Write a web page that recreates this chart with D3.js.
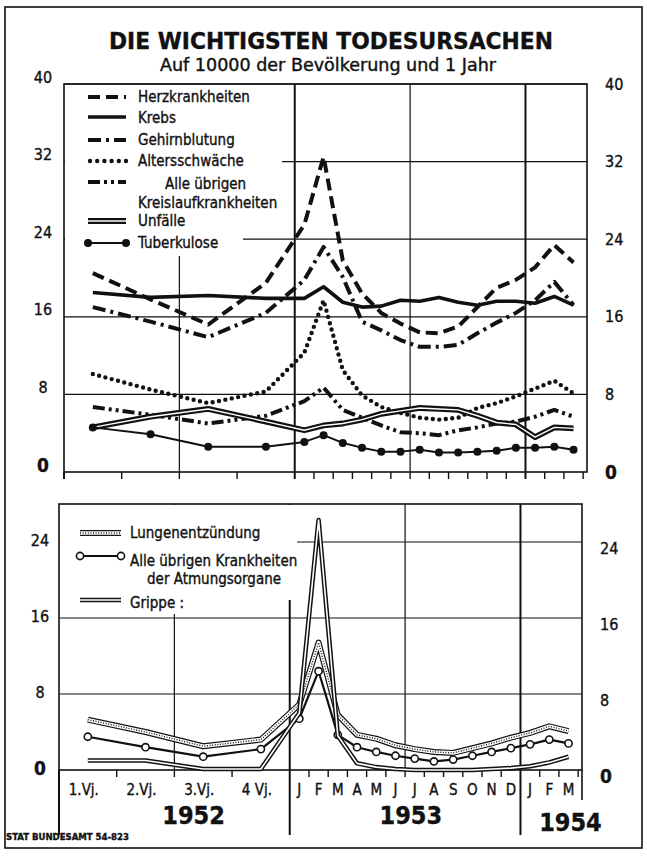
<!DOCTYPE html>
<html>
<head>
<meta charset="utf-8">
<script src="https://cdn.jsdelivr.net/npm/d3@7"></script>
<style>
body { margin: 0; background: #fff; }
text { font-family: "DejaVu Sans Condensed", "Liberation Sans Narrow", "DejaVu Sans", sans-serif; fill: #111; stroke: #111; stroke-width: 0.35; }
</style>
</head>
<body>
<div id="chart"></div>
<script>
// periods: 1952 in quarters, 1953 and early 1954 in months
const periods = ["1.Vj.", "2.Vj.", "3.Vj.", "4 Vj.", "J", "F", "M", "A", "M", "J", "J", "A", "S", "O", "N", "D", "J", "F", "M"];
const periodMonth = [1.5, 4.5, 7.5, 10.5, 12.5, 13.5, 14.5, 15.5, 16.5, 17.5, 18.5, 19.5, 20.5, 21.5, 22.5, 23.5, 24.5, 25.5, 26.5];
const years = ["1952", "1953", "1954"];
const yearMonth = [7, 18.3, 26.6];
const topTicks = [0, 8, 16, 24, 32, 40];
const bottomTicks = [0, 8, 16, 24];

// upper chart (per 10000 inhabitants and year)
const herz      = [20.5, 17.8, 15.2, 19.5, 25.5, 32.5, 21.8, 18.4, 16.4, 15.3, 14.4, 14.3, 15.0, 17.0, 19.0, 19.8, 21.1, 23.4, 21.6];
const krebs     = [18.5, 18.0, 18.2, 17.9, 17.9, 19.1, 17.5, 17.0, 17.1, 17.7, 17.6, 18.0, 17.5, 17.2, 17.6, 17.6, 17.4, 18.1, 17.2];
const gehirn    = [17.0, 15.5, 13.9, 16.4, 19.8, 23.2, 20.1, 15.5, 14.6, 13.6, 12.9, 12.9, 13.1, 14.3, 15.4, 16.4, 17.7, 19.6, 17.2];
const alters    = [10.1, 8.5, 7.1, 8.3, 12.3, 17.7, 10.5, 7.9, 6.7, 6.1, 5.6, 5.4, 5.6, 6.6, 7.1, 7.8, 8.6, 9.4, 8.1];
const kreislauf = [6.7, 5.9, 5.0, 5.8, 7.3, 8.7, 6.4, 5.6, 4.8, 4.1, 4.0, 3.8, 4.3, 4.6, 5.0, 5.2, 5.7, 6.4, 5.7];
const unfaelle  = [4.6, 5.7, 6.5, 5.2, 4.3, 4.8, 5.0, 5.4, 6.0, 6.3, 6.6, 6.5, 6.4, 5.8, 5.1, 4.9, 3.6, 4.6, 4.5];
const tuberk    = [4.6, 3.9, 2.6, 2.6, 3.1, 3.8, 3.0, 2.5, 2.1, 2.1, 2.3, 2.0, 2.0, 2.1, 2.2, 2.5, 2.5, 2.6, 2.3];

// lower chart
const lungen = [5.3, 4.0, 2.5, 3.2, 6.9, 13.4, 5.8, 3.7, 3.3, 2.6, 2.2, 1.9, 1.8, 2.3, 2.8, 3.4, 3.9, 4.6, 4.1];
const atmung = [3.5, 2.4, 1.4, 2.2, 5.4, 10.4, 3.7, 2.4, 1.9, 1.5, 1.2, 0.9, 1.1, 1.5, 1.9, 2.3, 2.7, 3.2, 2.8];
const grippe = [1.0, 1.0, 0.1, 0.1, 6.0, 26.3, 3.6, 0.7, 0.3, 0.1, 0, 0, 0, 0, 0.1, 0.2, 0.4, 0.8, 1.4];

const topSeries = [
	{name: ["Herzkrankheiten"], values: herz, style: "dash"},
	{name: ["Krebs"], values: krebs, style: "solid"},
	{name: ["Gehirnblutung"], values: gehirn, style: "dashdot"},
	{name: ["Altersschwäche"], values: alters, style: "dot"},
	{name: ["Alle übrigen", "Kreislaufkrankheiten"], values: kreislauf, style: "dashdotdot"},
	{name: ["Unfälle"], values: unfaelle, style: "double"},
	{name: ["Tuberkulose"], values: tuberk, style: "dots"}
];
const bottomSeries = [
	{name: ["Lungenentzündung"], values: lungen, style: "hatch"},
	{name: ["Alle übrigen Krankheiten", "der Atmungsorgane"], values: atmung, style: "circles"},
	{name: ["Grippe :"], values: grippe, style: "double2"}
];

const W = 647, H = 859;
const ink = "#111";
const svg = d3.select("#chart").append("svg")
	.attr("width", W)
	.attr("height", H);

svg.append("rect")
	.attr("x", 5).attr("y", 7)
	.attr("width", 637).attr("height", 841)
	.attr("fill", "none").attr("stroke", ink).attr("stroke-width", 1.6);

svg.append("text")
	.attr("x", 331).attr("y", 49)
	.attr("text-anchor", "middle")
	.attr("font-size", 23).attr("font-weight", "bold")
	.attr("textLength", 444).attr("lengthAdjust", "spacingAndGlyphs")
	.text("DIE WICHTIGSTEN TODESURSACHEN");
svg.append("text")
	.attr("x", 328).attr("y", 71)
	.attr("text-anchor", "middle")
	.attr("font-size", 17)
	.attr("textLength", 336).attr("lengthAdjust", "spacingAndGlyphs")
	.text("Auf 10000 der Bevölkerung und 1 Jahr");

let line = d3.line();

function drawSeries(g, pts, style) {
	let d = line(pts);
	let path = function(w, dash, col) {
		let p = g.append("path")
			.attr("d", d)
			.attr("fill", "none")
			.attr("stroke", col || ink)
			.attr("stroke-width", w)
			.attr("stroke-linejoin", "round");
		if (dash) p.attr("stroke-dasharray", dash);
		return p;
	};
	if (style === "dash") path(4, "12 6");
	else if (style === "solid") path(3.6);
	else if (style === "dashdot") path(4, "13 5 3 5");
	else if (style === "dashdotdot") path(4, "12 4 3 4 3 4");
	else if (style === "dot") path(4.4, "0 6.5").attr("stroke-linecap", "round");
	else if (style === "double") { path(5.8); path(1.4, null, "#fff"); }
	else if (style === "double2") { path(4.6); path(1.6, null, "#fff"); }
	else if (style === "hatch") { path(6); path(3.6, null, "#fff"); path(1.4, "1 1.6"); }
	else if (style === "dots") {
		path(2);
		g.selectAll(null).data(pts).enter().append("circle")
			.attr("cx", d => d[0]).attr("cy", d => d[1])
			.attr("r", 4).attr("fill", ink);
	}
	else if (style === "circles") {
		path(2.2);
		g.selectAll(null).data(pts).enter().append("circle")
			.attr("cx", d => d[0]).attr("cy", d => d[1])
			.attr("r", 3.6).attr("fill", "#fff")
			.attr("stroke", ink).attr("stroke-width", 1.6);
	}
}

function panel(cfg) {
	let g = svg.append("g");
	let x = cfg.x, y = cfg.y;
	let x0 = x(0), x1 = x.range()[1];
	let y0 = y(0), y1 = y.range()[1];

	// grid
	g.selectAll(null).data(cfg.ticks.filter(t => t > 0)).enter().append("line")
		.attr("x1", x0).attr("x2", x1)
		.attr("y1", d => y(d)).attr("y2", d => y(d))
		.attr("stroke", ink).attr("stroke-width", 1.2);
	g.selectAll(null).data([6, 12, 18, 24]).enter().append("line")
		.attr("x1", d => x(d)).attr("x2", d => x(d))
		.attr("y1", y1).attr("y2", y0)
		.attr("stroke", ink).attr("stroke-width", d => d % 12 === 0 ? 2 : 1.2);

	// ticks under the zero line
	let tickMonths = [0, 3, 6, 9].concat(d3.range(12, 28));
	g.selectAll(null).data(tickMonths).enter().append("line")
		.attr("x1", d => x(d)).attr("x2", d => x(d))
		.attr("y1", y0).attr("y2", d => y0 + (cfg.longTicks && d % 12 === 0 ? cfg.longTicks : 7))
		.attr("stroke", ink).attr("stroke-width", d => d % 12 === 0 ? 2 : 1.4);

	// frame
	g.append("rect")
		.attr("x", x0).attr("y", y1)
		.attr("width", x1 - x0).attr("height", y0 - y1)
		.attr("fill", "none").attr("stroke", ink).attr("stroke-width", 1.6);

	// legend background breaks the grid
	cfg.legendBg.forEach(function(r) {
		g.append("rect")
			.attr("x", x0 + 1).attr("y", y1 + 1)
			.attr("width", r[0] - x0 - 1).attr("height", r[1] - y1 - 1)
			.attr("fill", "#fff");
	});

	// y labels
	g.selectAll(null).data(cfg.ticks).enter().append("text")
		.attr("x", cfg.leftX).attr("y", d => y(d) + cfg.leftDy)
		.attr("text-anchor", "middle")
		.attr("dominant-baseline", "central")
		.attr("font-size", d => d === 0 ? 19 : 16)
		.attr("font-weight", d => d === 0 ? "bold" : "normal")
		.text(d => d);
	g.selectAll(null).data(cfg.ticks).enter().append("text")
		.attr("x", cfg.rightX).attr("y", d => y(d) + cfg.rightDy)
		.attr("text-anchor", "start")
		.attr("dominant-baseline", "central")
		.attr("font-size", d => d === 0 ? 19 : 16)
		.attr("font-weight", d => d === 0 ? "bold" : "normal")
		.text(d => d);

	// series
	cfg.series.forEach(function(s) {
		let pts = s.values.map((v, i) => [x(periodMonth[i]), y(v)]);
		drawSeries(g.append("g"), pts, s.style);
	});

	// legend
	cfg.series.forEach(function(s, i) {
		let ly = cfg.legendY[i];
		let lg = g.append("g");
		if (s.style === "dot") {
			lg.selectAll(null).data(d3.range(6)).enter().append("circle")
				.attr("cx", d => cfg.legX[0] + 2 + d * 7.2).attr("cy", ly)
				.attr("r", 2.2).attr("fill", ink);
		} else {
			drawSeries(lg, [[cfg.legX[0], ly], [cfg.legX[1], ly]], s.style);
		}
		s.name.forEach(function(t, k) {
			g.append("text")
				.attr("x", k === 0 ? cfg.labelX : cfg.labelX2[i])
				.attr("y", (k === 0 ? cfg.labelY[i] : cfg.labelY2[i]))
				.attr("dominant-baseline", "central")
				.attr("font-size", cfg.legendFont)
				.text(t);
		});
	});
	return g;
}

const xTop = d3.scaleLinear().domain([0, 27.2]).range([64, 587]);
const yTop = d3.scaleLinear().domain([0, 40]).range([472, 84]);
panel({
	x: xTop, y: yTop, ticks: topTicks, series: topSeries,
	leftX: 43, leftDy: -7, rightX: 605, rightDy: 0,
	legendBg: [[282, 232], [243, 256]],
	legX: [88, 126],
	legendY: [97, 117, 140, 161, 182, 221, 243],
	labelX: 138,
	labelY: [97, 118, 140, 161, 184, 221, 243],
	labelX2: [0, 0, 0, 0, 138, 0, 0],
	labelY2: [0, 0, 0, 0, 203, 0, 0],
	legendFont: 15
});
// "Alle übrigen" first line is indented in the original
svg.selectAll("text").filter(function() { return d3.select(this).text() === "Alle übrigen"; })
	.attr("x", 165);

const xBot = d3.scaleLinear().domain([0, 27.2]).range([59, 582]);
const yBot = d3.scaleLinear().domain([0, 28]).range([770, 504]);
let gb = panel({
	x: xBot, y: yBot, ticks: bottomTicks, series: bottomSeries,
	leftX: 40, leftDy: -2, rightX: 600, rightDy: 6,
	legendBg: [[283, 614], [297, 600]],
	legX: [80, 121],
	legendY: [533, 556, 600],
	labelX: 130,
	labelY: [533, 561, 603],
	labelX2: [0, 147, 0],
	labelY2: [0, 579, 0],
	legendFont: 15,
	longTicks: 65
});

// year separators and right edge
gb.append("line")
	.attr("x1", xBot(0)).attr("x2", xBot(0))
	.attr("y1", yBot(0)).attr("y2", yBot(0) + 65)
	.attr("stroke", ink).attr("stroke-width", 1.6);
gb.append("line")
	.attr("x1", xBot.range()[1]).attr("x2", xBot.range()[1])
	.attr("y1", yBot(0)).attr("y2", yBot(0) + 30)
	.attr("stroke", ink).attr("stroke-width", 1.6);

// x labels
gb.selectAll(null).data(periods).enter().append("text")
	.attr("x", (d, i) => xBot(periodMonth[i]) + (i < 4 ? -4 : 0))
	.attr("y", 790)
	.attr("text-anchor", "middle")
	.attr("dominant-baseline", "central")
	.attr("font-size", 15)
	.text(d => d);
gb.selectAll(null).data(years).enter().append("text")
	.attr("x", (d, i) => xBot(yearMonth[i]))
	.attr("y", (d, i) => i === 2 ? 822 : 815)
	.attr("text-anchor", "middle")
	.attr("dominant-baseline", "central")
	.attr("font-size", 25).attr("font-weight", "bold")
	.text(d => d);

svg.append("text")
	.attr("x", 6).attr("y", 840)
	.attr("font-size", 9.5).attr("font-weight", "bold")
	.text("STAT  BUNDESAMT 54-823");
</script>
</body>
</html>
